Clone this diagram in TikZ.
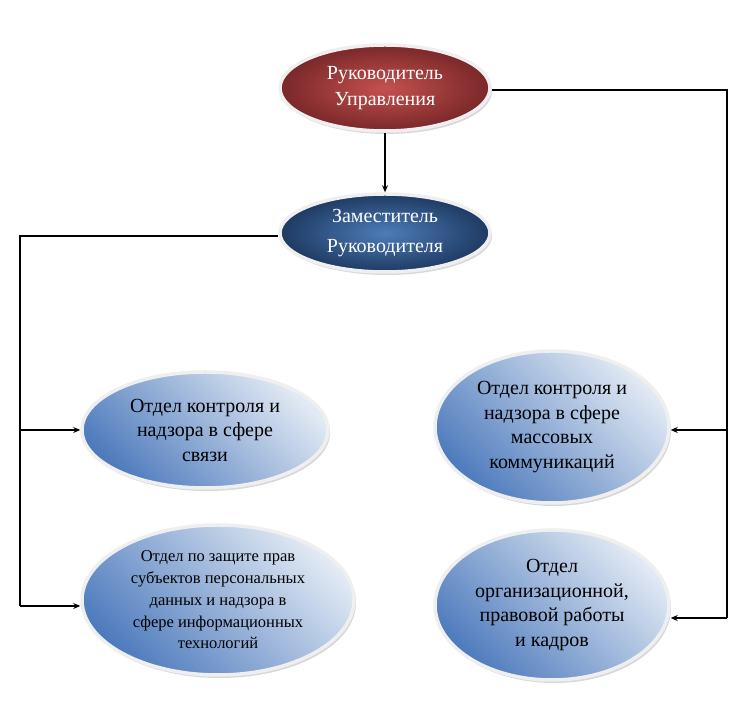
\documentclass[tikz,border=0pt]{standalone}
\usepackage{fontspec}
\setmainfont{Liberation Serif}
\usetikzlibrary{shapes.geometric,shadows,arrows.meta}
\definecolor{redin}{HTML}{C4514F}
\definecolor{redout}{HTML}{7A2729}
\definecolor{bluein}{HTML}{4D7CB8}
\definecolor{blueout}{HTML}{1E3A62}
\definecolor{lightc}{HTML}{E2EAF4}
\definecolor{darkc}{HTML}{4E7BBD}
\definecolor{rimc}{HTML}{EFEFEF}
\tikzset{
  oval/.style={ellipse, draw=rimc, line width=3.5pt, inner sep=0pt, align=center,
    drop shadow={shadow xshift=2pt, shadow yshift=-3pt, opacity=0.3, fill=gray}},
  rednode/.style={oval, inner color=redin, outer color=redout, text=white,
    font=\fontsize{20}{26}\selectfont},
  bluenode/.style={oval, inner color=bluein, outer color=blueout, text=white,
    font=\fontsize{20}{30}\selectfont},
  lightnode/.style={oval, top color=lightc, bottom color=darkc, shading angle=-45,
    text=black, font=\fontsize{20}{24.5}\selectfont},
  conn/.style={line width=1.4pt, black},
  arr/.style={conn, -{Stealth[length=7pt,width=6pt]}}
}
\begin{document}
\begin{tikzpicture}[x=1pt,y=1pt]
\useasboundingbox[fill=white] (0,0) rectangle (750,714);
\node[rednode, minimum width=210pt, minimum height=86pt] (head) at (385,626)
  {Руководитель\\Управления};
\node[bluenode, minimum width=210pt, minimum height=78pt] (dep) at (385,481)
  {Заместитель\\Руководителя};
\node[lightnode, minimum width=246pt, minimum height=116pt] (l1) at (205,284)
  {Отдел контроля и\\надзора в сфере\\связи};
\node[lightnode, minimum width=272pt, minimum height=150pt, font=\fontsize{16.5}{21.7}\selectfont] (l2) at (218,114)
  {Отдел по защите прав\\субъектов персональных\\данных и надзора в\\сфере информационных\\технологий};
\node[lightnode, minimum width=234pt, minimum height=152pt] (r1) at (552,287)
  {Отдел контроля и\\надзора в сфере\\массовых\\коммуникаций};
\node[lightnode, minimum width=234pt, minimum height=150pt] (r2) at (552,109)
  {Отдел\\организационной,\\правовой работы\\и кадров};

\draw[arr] (head) -- (dep);

\coordinate (rtop) at (727,624);
\coordinate (ra1) at (727,284);
\coordinate (ra2) at (727,96);
\draw[conn] (head.east |- rtop) -- (rtop) -- (ra2);
\draw[arr] (ra1) -- (ra1 -| r1.east);
\draw[arr] (ra2) -- (ra2 -| r2.east);

\coordinate (ltop) at (20,478);
\coordinate (la1) at (20,284);
\coordinate (la2) at (20,108);
\draw[conn] (dep.west |- ltop) -- (ltop) -- (la2);
\draw[arr] (la1) -- (la1 -| l1.west);
\draw[arr] (la2) -- (la2 -| l2.west);
\end{tikzpicture}
\end{document}
